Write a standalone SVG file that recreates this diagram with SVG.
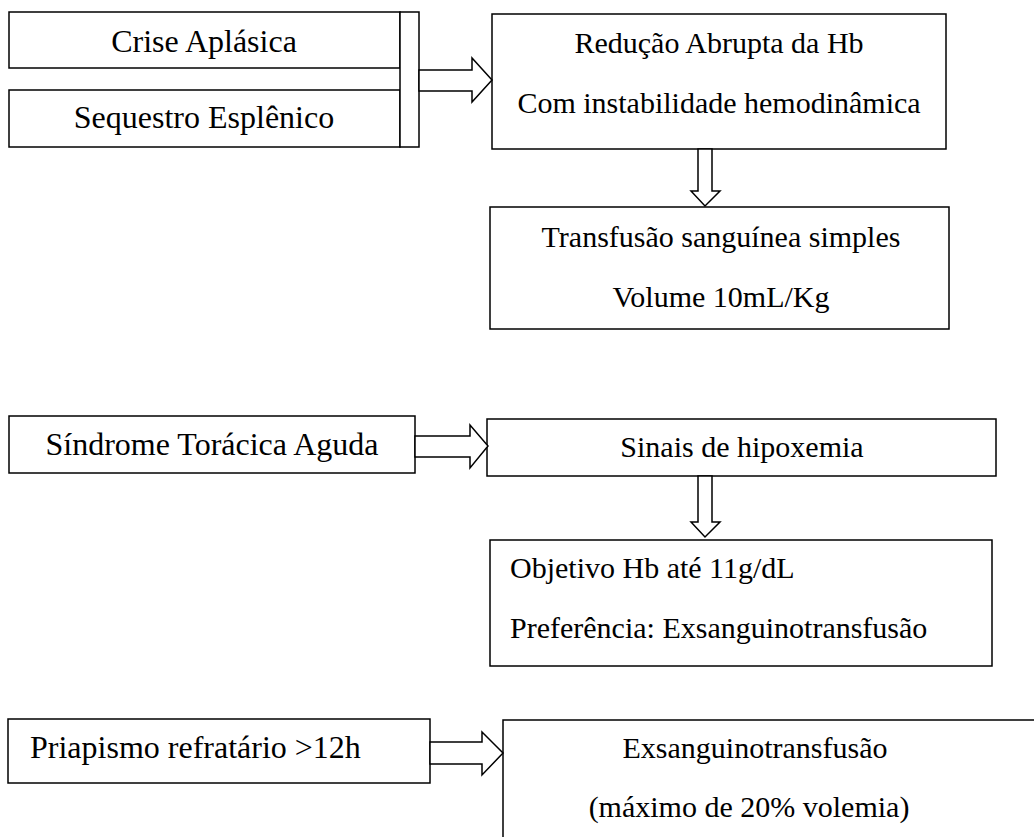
<svg xmlns="http://www.w3.org/2000/svg" width="1034" height="837" viewBox="0 0 1034 837">
  <style>
    .box { fill: #fff; stroke: #000; stroke-width: 1.5; }
    .arrow { fill: #fff; stroke: #000; stroke-width: 1.5; stroke-linejoin: miter; }
    text { font-family: "Liberation Serif", "Times New Roman", serif; font-size: 30px; fill: #000; }
    .big { font-size: 32px; }
    .c { text-anchor: middle; }
  </style>
  <rect width="1034" height="837" fill="#fff"/>

  <!-- top group: crisis causes -->
  <g id="crise-aplasica">
    <rect class="box" x="9" y="12" width="391" height="56"/>
    <text class="c big" x="204" y="52">Crise Aplásica</text>
  </g>
  <g id="sequestro-esplenico">
    <rect class="box" x="9" y="90" width="391" height="57"/>
    <text class="c big" x="204" y="128">Sequestro Esplênico</text>
  </g>
  <g id="bracket">
    <rect class="box" x="400" y="12" width="19" height="135"/>
  </g>
  <g id="reducao-hb">
    <rect class="box" x="492" y="14" width="454" height="135"/>
    <text class="c" x="719" y="53">Redução Abrupta da Hb</text>
    <text class="c" x="719" y="113">Com instabilidade hemodinâmica</text>
  </g>
  <g id="transfusao-simples">
    <rect class="box" x="490" y="207" width="459" height="122"/>
    <text class="c" x="721" y="247">Transfusão sanguínea simples</text>
    <text class="c" x="721" y="307">Volume 10mL/Kg</text>
  </g>

  <!-- middle group: acute chest syndrome -->
  <g id="sindrome-toracica">
    <rect class="box" x="9" y="416" width="406" height="57"/>
    <text class="c big" x="212" y="455">Síndrome Torácica Aguda</text>
  </g>
  <g id="sinais-hipoxemia">
    <rect class="box" x="487" y="419" width="509" height="57"/>
    <text class="c" x="742" y="457">Sinais de hipoxemia</text>
  </g>
  <g id="objetivo-hb">
    <rect class="box" x="490" y="540" width="502" height="126"/>
    <text x="510" y="578">Objetivo Hb até 11g/dL</text>
    <text x="510" y="638">Preferência: Exsanguinotransfusão</text>
  </g>

  <!-- bottom group: refractory priapism -->
  <g id="priapismo">
    <rect class="box" x="8" y="719" width="422" height="64"/>
    <text class="big" x="30" y="758">Priapismo refratário &gt;12h</text>
  </g>
  <g id="exsanguinotransfusao">
    <rect class="box" x="503" y="720" width="560" height="160"/>
    <text class="c" x="755" y="758">Exsanguinotransfusão</text>
    <text class="c" x="749" y="817">(máximo de 20% volemia)</text>
  </g>

  <!-- block arrows -->
  <g id="connectors">
    <polygon class="arrow" points="419,70 472,70 472,58 492,80 472,102 472,91 419,91"/>
    <polygon class="arrow" points="698,149 712,149 712,191 720,191 705,206 691,191 698,191"/>
    <polygon class="arrow" points="415,436 470,436 470,425 488,446 470,468 470,457 415,457"/>
    <polygon class="arrow" points="698,476 712,476 712,522 720,522 705,537 691,522 698,522"/>
    <polygon class="arrow" points="430,742 482,742 482,732 503,753 482,775 482,764 430,764"/>
  </g>
</svg>
